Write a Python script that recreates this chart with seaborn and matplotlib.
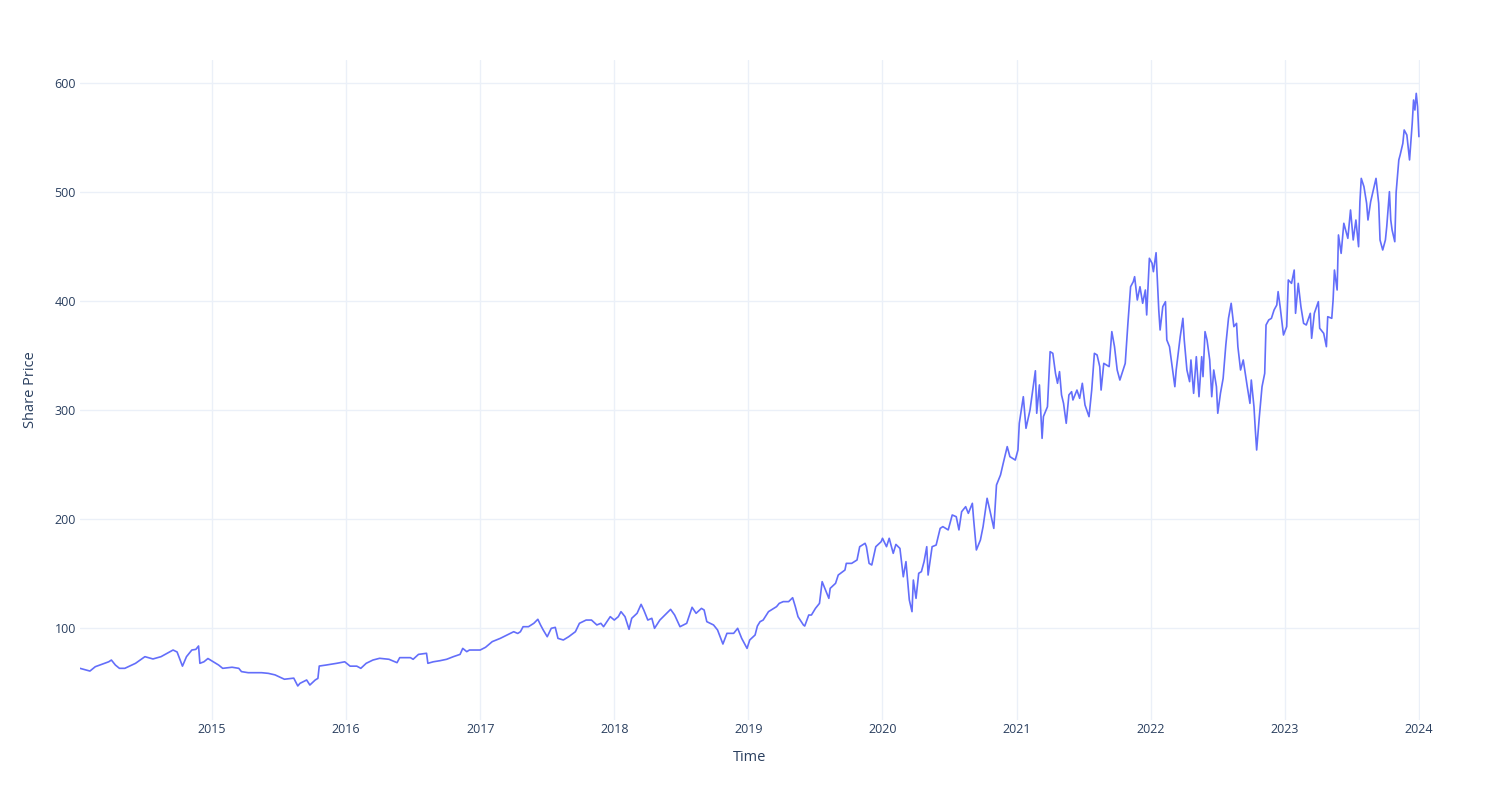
import numpy as np
import pandas as pd
import seaborn as sns
import matplotlib
matplotlib.use("Agg")
import matplotlib.pyplot as plt
import matplotlib.dates as mdates

# ---- data (decimal year, share price) ----
years_2014_2015 = [2014.016, 2014.09, 2014.13, 2014.23, 2014.25, 2014.28, 2014.31, 2014.35, 2014.43, 2014.50,
                   2014.56, 2014.62, 2014.71, 2014.74, 2014.78, 2014.81, 2014.85, 2014.88, 2014.90, 2014.91,
                   2014.94, 2014.97, 2015.01, 2015.05, 2015.08, 2015.15, 2015.20, 2015.22, 2015.27, 2015.37,
                   2015.42, 2015.47, 2015.54, 2015.61, 2015.64]
price_2014_2015 = [63, 60.5, 64.5, 69, 70.6, 66, 63, 63, 67.6, 73.7,
                   71.6, 73.7, 79.8, 78, 65, 73.7, 79.8, 80.4, 83.5, 67.6,
                   69, 72, 69, 66, 63, 64, 63, 60, 59, 59,
                   58.4, 57, 53, 54, 46.8]

years_2015_2017 = [2015.656, 2015.706, 2015.73, 2015.77, 2015.79, 2015.80, 2015.85, 2015.93, 2015.99, 2016.03,
                   2016.08, 2016.11, 2016.15, 2016.20, 2016.25, 2016.32, 2016.38, 2016.40, 2016.48, 2016.50,
                   2016.54, 2016.60, 2016.61, 2016.65, 2016.70, 2016.75, 2016.80, 2016.85, 2016.87, 2016.90,
                   2016.92, 2017.00, 2017.04, 2017.09, 2017.15, 2017.20, 2017.25, 2017.28]
price_2015_2017 = [49.2, 52.3, 47.7, 52.3, 53.8, 65.1, 66, 67.6, 69, 65,
                   65, 63, 67.6, 70.6, 72.2, 71.3, 68.2, 72.8, 72.8, 71.3,
                   75.8, 76.8, 67.6, 69, 70, 71.3, 73.7, 75.8, 81.3, 78.3,
                   79.8, 79.8, 82.3, 87.5, 90.5, 93.6, 96.6, 95]

years_2017_2018 = [2017.30, 2017.32, 2017.36, 2017.40, 2017.43, 2017.45, 2017.47, 2017.50, 2017.53, 2017.56,
                   2017.58, 2017.62, 2017.66, 2017.71, 2017.74, 2017.79, 2017.83, 2017.87, 2017.90, 2017.92,
                   2017.97, 2018.00, 2018.03, 2018.05, 2018.08, 2018.11, 2018.13, 2018.17, 2018.20, 2018.22,
                   2018.25, 2018.28, 2018.30, 2018.34, 2018.39, 2018.42, 2018.45, 2018.49, 2018.54, 2018.58,
                   2018.61, 2018.65, 2018.67, 2018.69, 2018.74, 2018.77, 2018.81, 2018.84, 2018.89, 2018.92,
                   2018.95, 2018.99]
price_2017_2018 = [96.6, 101.2, 101.2, 104.3, 108, 102.8, 98.2, 92, 99.7, 100.6,
                   90.5, 89, 92, 96.6, 104.3, 107.3, 107.3, 102.8, 104.3, 101.2,
                   110.4, 107.3, 110.4, 115, 110.4, 98.8, 108.9, 113.5, 121.7, 116.5,
                   107.3, 108.9, 99.7, 107.3, 113.5, 117.1, 111.9, 101.2, 104.3, 119,
                   113.5, 118, 116.5, 105.8, 102.8, 98.2, 85.3, 95.1, 95.1, 99.7,
                   90.5, 81.3]

years_2019_2020 = [2019.01, 2019.05, 2019.067, 2019.087, 2019.11, 2019.15, 2019.17, 2019.21, 2019.23, 2019.26,
                   2019.30, 2019.33, 2019.35, 2019.37, 2019.41, 2019.42, 2019.45, 2019.47, 2019.50, 2019.53,
                   2019.55, 2019.57, 2019.60, 2019.61, 2019.65, 2019.67, 2019.72, 2019.73, 2019.77, 2019.81,
                   2019.83, 2019.87, 2019.88, 2019.90, 2019.92, 2019.95, 2019.99, 2020.00, 2020.03, 2020.05,
                   2020.08, 2020.10]
price_2019_2020 = [89, 93.6, 101.8, 105.8, 107.3, 115, 116.5, 119.6, 122.6, 124.2,
                   124.2, 127.8, 119.6, 110.4, 102.8, 101.8, 111.9, 111.9, 118, 122.6,
                   142.5, 136.4, 127.2, 136.4, 141, 148.6, 153.2, 159.3, 159.3, 162.4,
                   174.6, 177.7, 174.6, 159.3, 157.8, 174.6, 179.2, 182.3, 174.6, 182.3,
                   168.5, 176.7]

years_2020_2021 = [2020.13, 2020.155, 2020.175, 2020.20, 2020.22, 2020.23, 2020.25, 2020.27, 2020.29, 2020.31,
                   2020.33, 2020.34, 2020.37, 2020.40, 2020.43, 2020.45, 2020.49, 2020.52, 2020.55, 2020.57,
                   2020.59, 2020.62, 2020.64, 2020.67, 2020.68, 2020.70, 2020.73, 2020.75, 2020.78, 2020.80,
                   2020.83, 2020.85, 2020.88, 2020.90, 2020.93, 2020.95, 2020.99, 2021.01, 2021.02, 2021.05,
                   2021.07, 2021.10, 2021.12, 2021.14, 2021.15, 2021.17, 2021.19, 2021.20, 2021.23]
price_2020_2021 = [173, 147, 160.9, 125.7, 115, 144, 127.2, 150.2, 151.7, 160.9,
                   174.6, 148.6, 174.6, 176.1, 191.4, 193, 190, 203.7, 202.1, 190,
                   206.7, 211.3, 205.2, 214.4, 199, 171.6, 180.7, 193, 219, 208.3,
                   191.4, 231.2, 240.4, 251, 266.4, 257.2, 254.1, 263.3, 287.8, 312.2,
                   283.2, 300, 318.3, 336, 297, 323, 274, 294, 303]

years_2021_2022 = [2021.25, 2021.27, 2021.29, 2021.305, 2021.32, 2021.335, 2021.35, 2021.37, 2021.39, 2021.41,
                   2021.42, 2021.45, 2021.47, 2021.49, 2021.51, 2021.54, 2021.56, 2021.58, 2021.60, 2021.62,
                   2021.63, 2021.65, 2021.69, 2021.71, 2021.73, 2021.75, 2021.77, 2021.81, 2021.83, 2021.85,
                   2021.87, 2021.88, 2021.90, 2021.92, 2021.94, 2021.96, 2021.97, 2021.99, 2022.01, 2022.02,
                   2022.04, 2022.06, 2022.07, 2022.09, 2022.11, 2022.12, 2022.14, 2022.16, 2022.18, 2022.19,
                   2022.22, 2022.24, 2022.25, 2022.27, 2022.29, 2022.30, 2022.32, 2022.34, 2022.36]
price_2021_2022 = [353.5, 352, 333.6, 324.5, 335.2, 313.8, 306.1, 287.8, 313.8, 316.8,
                   309.2, 318.3, 310.7, 324.5, 304.6, 293.9, 318.3, 352, 350.5, 339.8,
                   318.3, 342.8, 339.8, 371.9, 358.1, 336.7, 327.5, 342.8, 379.5, 413.1,
                   417.7, 422.3, 400.9, 413.1, 397.9, 410.1, 387.2, 439.2, 434.6, 426.9,
                   444.3, 391.8, 373.4, 394.8, 399.4, 364.3, 358.1, 339.8, 321.4, 336.7,
                   367.3, 384.1, 364.3, 336.7, 326, 345.9, 315.3, 348.9, 312.2]

years_2022 = [2022.38, 2022.39, 2022.405, 2022.42, 2022.44, 2022.455, 2022.47, 2022.49, 2022.50, 2022.52,
              2022.54, 2022.56, 2022.58, 2022.60, 2022.62, 2022.64, 2022.65, 2022.67, 2022.69, 2022.72,
              2022.74, 2022.75, 2022.77, 2022.78, 2022.79, 2022.81, 2022.83, 2022.85, 2022.86, 2022.88,
              2022.90, 2022.92, 2022.94, 2022.95]
price_2022 = [348.9, 330.6, 371.9, 364.2, 345.9, 312.2, 336.7, 321.4, 297, 315.3,
              329, 359.6, 384.1, 397.9, 376.5, 379.5, 358.1, 336.7, 345.9, 321.4,
              306.1, 327.5, 303, 281.7, 263.3, 293.9, 321.4, 333.6, 378, 382.6,
              384.1, 391.8, 396.3, 408.6]

years_2023 = [2022.965, 2022.99, 2023.014, 2023.026, 2023.05, 2023.07, 2023.08, 2023.10, 2023.12, 2023.14,
              2023.16, 2023.19, 2023.20, 2023.22, 2023.25, 2023.26, 2023.29, 2023.31, 2023.32, 2023.35,
              2023.36, 2023.37, 2023.39, 2023.40, 2023.42, 2023.44, 2023.45, 2023.47, 2023.49, 2023.51,
              2023.53, 2023.55, 2023.56, 2023.57, 2023.59, 2023.61, 2023.62, 2023.64, 2023.66, 2023.68,
              2023.70, 2023.71, 2023.73, 2023.75, 2023.76, 2023.78, 2023.79, 2023.80, 2023.82, 2023.83,
              2023.85, 2023.86, 2023.88, 2023.89, 2023.91, 2023.93, 2023.95, 2023.96, 2023.97, 2023.98,
              2023.99, 2024.00]
price_2023 = [394.8, 368.8, 376.5, 419.3, 416.2, 428.4, 388.7, 416.2, 394.8, 379.5,
              378, 388.7, 365.8, 388.7, 399.4, 375, 370.3, 358.1, 385.6, 384.1,
              400.9, 428.4, 410.1, 460.6, 443.7, 471.3, 466.7, 457.5, 483.5, 456,
              474.3, 449.8, 491.1, 512.5, 504.9, 489.6, 474.3, 491.1, 501.8, 512.5,
              489.6, 456, 446.8, 456, 468.2, 500.3, 474.3, 465.1, 454.4, 499.6,
              529.4, 534, 544.6, 556.9, 552.3, 529.4, 563, 584.4, 575.2, 590.5,
              578.3, 550.8]

year_ticks = [2015, 2016, 2017, 2018, 2019, 2020, 2021, 2022, 2023, 2024]
price_ticks = [100, 200, 300, 400, 500, 600]

# ---- assemble ----
years = np.array(years_2014_2015 + years_2015_2017 + years_2017_2018 + years_2019_2020 +
                 years_2020_2021 + years_2021_2022 + years_2022 + years_2023)
prices = np.array(price_2014_2015 + price_2015_2017 + price_2017_2018 + price_2019_2020 +
                  price_2020_2021 + price_2021_2022 + price_2022 + price_2023)


def to_date(y):
    return pd.Timestamp("2014-01-01") + pd.to_timedelta((np.asarray(y) - 2014.0) * 365.25, unit="D")


df = pd.DataFrame({"Time": to_date(years), "Share Price": prices})

sns.set_theme(style="white")
plt.rcParams["font.family"] = ["Open Sans", "DejaVu Sans"]

fig = plt.figure(figsize=(15, 8), dpi=100)
ax = fig.add_axes([80 / 1500, 1 - 720 / 800, 1340 / 1500, 660 / 800])

sns.lineplot(data=df, x="Time", y="Share Price", color="#636EFA", linewidth=1.2, ax=ax)

ax.set_xlim(to_date(2014.016), to_date(2024.008))
ax.set_ylim(15.6, 621.1)
ax.set_xticks([pd.Timestamp(f"{y}-01-01") for y in year_ticks])
ax.xaxis.set_major_formatter(mdates.DateFormatter("%Y"))
ax.set_yticks(price_ticks)

ax.grid(True, color="#EBF0F8", linewidth=1)
ax.set_axisbelow(True)
for s in ax.spines.values():
    s.set_visible(False)

ax.tick_params(axis="both", length=0, labelsize=9, colors="#2a3f5f")
ax.tick_params(axis="x", pad=2)
ax.tick_params(axis="y", pad=3)
ax.set_xlabel("Time", fontsize=10.5, color="#2a3f5f", labelpad=10)
ax.set_ylabel("Share Price", fontsize=10.5, color="#2a3f5f", labelpad=12)

fig.savefig("out.png", dpi=100, facecolor="white")
